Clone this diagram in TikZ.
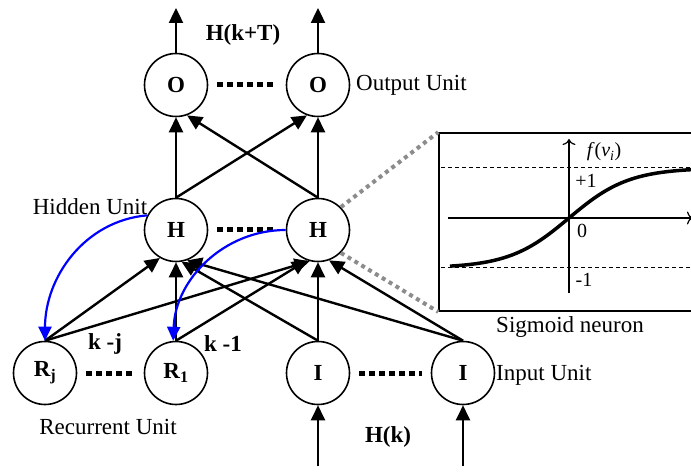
\documentclass[tikz,border=0pt]{standalone}
\usepackage{fontspec}
\setmainfont{Liberation Serif}
\usetikzlibrary{arrows.meta}

\begin{document}
\begin{tikzpicture}[x=1pt,y=-1pt,line join=round]
  \tikzset{
    unit/.style={circle,draw=black,line width=1.6pt,minimum size=63pt,inner sep=0pt,font=\fontsize{23}{26}\selectfont\bfseries},
    link/.style={draw=black,line width=2.4pt,-{Triangle[length=15pt,width=14pt]}},
    back/.style={draw=blue,line width=2.2pt,-{Triangle[length=14pt,width=13pt]}},
    dots/.style={draw=black,line width=5pt,dash pattern=on 6pt off 4pt,shorten <=9pt,shorten >=9pt},
    zoomline/.style={draw=black!45,line width=4pt,dash pattern=on 4pt off 4pt},
    lbl/.style={font=\fontsize{23}{26}\selectfont},
    tag/.style={font=\fontsize{23}{26}\selectfont\bfseries},
    small/.style={font=\fontsize{20}{22}\selectfont}
  }
  \useasboundingbox (0,0) rectangle (691,473);
  % units, in rows: output, hidden, recurrent and input
  \node[unit] (Oa) at (176,85) {O};
  \node[unit] (Ob) at (318,85) {O};
  \node[unit] (Ha) at (176,230) {H};
  \node[unit] (Hb) at (318,230) {H};
  \node[unit] (Rj) at (45,373) {R\textsubscript{j}};
  \node[unit] (R1) at (176,373) {R\textsubscript{1}};
  \node[unit] (Ia) at (318,373) {I};
  \node[unit] (Ib) at (463,373) {I};
  \draw[dots] (Oa) -- (Ob);
  \draw[dots] (Ha) -- (Hb);
  \draw[dots] (Rj) -- (R1);
  \draw[dots] (Ia) -- (Ib);
  % outputs and inputs
  \coordinate (ta) at (176,8);
  \coordinate (tb) at (318,8);
  \coordinate (ba) at (318,466);
  \coordinate (bb) at (463,466);
  \draw[link] (Oa.north) -- (ta);
  \draw[link] (Ob.north) -- (tb);
  \draw[link] (ba) -- (Ia.south);
  \draw[link] (bb) -- (Ib.south);
  % hidden to output
  \draw[link] (Ha.north) -- (Oa.south);
  \draw[link] (Ha.north) -- (Ob.250);
  \draw[link] (Hb.north) -- (Oa.290);
  \draw[link] (Hb.north) -- (Ob.south);
  % recurrent and input to hidden
  \draw[link] (Rj.north) -- (Ha.240);
  \draw[link] (Rj.north) -- (Hb.255);
  \draw[link] (R1.north) -- (Ha.south);
  \draw[link] (R1.north) -- (Hb.250);
  \draw[link] (Ia.north) -- (Ha.280);
  \draw[link] (Ia.north) -- (Hb.south);
  \draw[link] (Ib.north) -- (Ha.290);
  \draw[link] (Ib.north) -- (Hb.290);
  % context copies
  \draw[back] (Ha.153) to[out=185,in=90] (Rj.north);
  \draw[back] (Hb.west) to[out=180,in=88] (R1.95);
  % sigmoid close-up
  \node[draw=black,line width=1.6pt,minimum width=262pt,minimum height=178pt,inner sep=0pt] (sig) at (570,222) {};
  \draw[zoomline] (Hb.north east) -- (sig.north west);
  \draw[zoomline] (Hb.south east) -- (sig.south west);
  \draw[line width=1pt,dash pattern=on 4pt off 3pt] (441,168) -- (700,168);
  \draw[line width=1pt,dash pattern=on 4pt off 3pt] (441,268) -- (700,268);
  \draw[line width=1.2pt,-{To[length=6pt,width=13pt]}] (569,293) -- (569,139);
  \draw[line width=1.2pt,-{To[length=6pt,width=13pt]}] (448,218) -- (693,218);
  \draw[line width=3.5pt] plot[domain=-119:125,samples=60] ({569+\x},{218-50*tanh(\x/60)});
  \node[small] (fv) at (604,152) {\textit{f}(\textit{v}\textsubscript{\textit{i}})};
  \node[small] (p1) at (586,181) {+1};
  \node[small] (z0) at (582,231) {0};
  \node[small] (m1) at (584,280) {-1};
  % labels
  \node[tag] (hout) at (243,35) {H(k+T)};
  \node[tag] (hin) at (388,437) {H(k)};
  \node[tag] (kj) at (105,344) {k -j};
  \node[tag] (k1) at (223,344) {k -1};
  \node[lbl,anchor=west,inner sep=0pt] (olbl) at (356,85) {Output Unit};
  \node[lbl] (hlbl) at (90,207) {Hidden Unit};
  \node[lbl] (rlbl) at (108,427) {Recurrent Unit};
  \node[lbl,anchor=west,inner sep=0pt] (ilbl) at (496,375) {Input Unit};
  \node[lbl] (slbl) at (570,327) {Sigmoid neuron};
\end{tikzpicture}
\end{document}
